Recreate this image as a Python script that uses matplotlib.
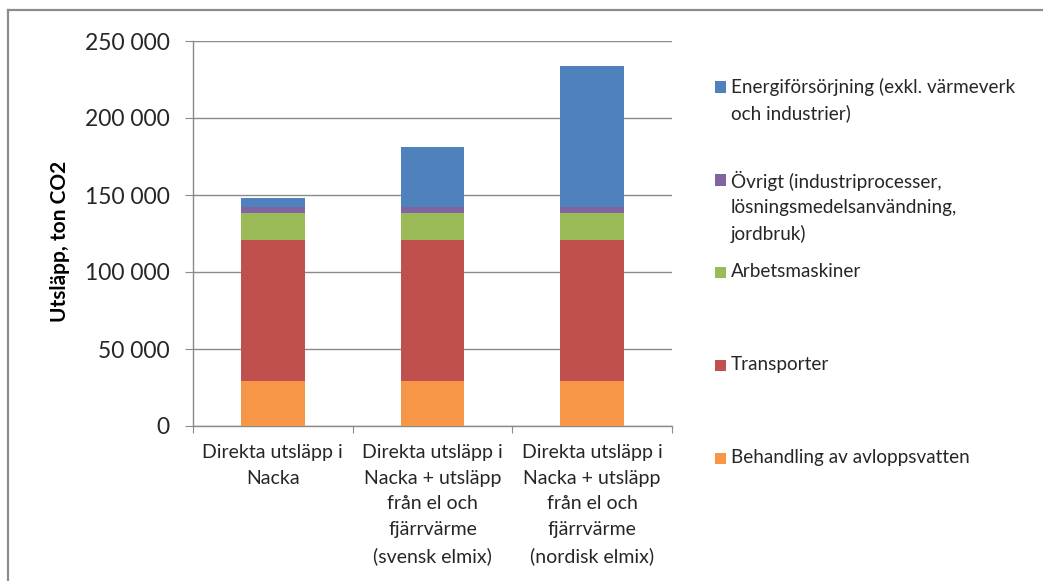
import matplotlib.pyplot as plt
from matplotlib.lines import Line2D
from matplotlib.patches import Rectangle
from matplotlib.ticker import FuncFormatter, FixedLocator

plt.rcParams['font.family'] = ['Lato', 'DejaVu Sans']

categories = [
    "Direkta utsläpp i\nNacka",
    "Direkta utsläpp i\nNacka + utsläpp\nfrån el och\nfjärrvärme\n(svensk elmix)",
    "Direkta utsläpp i\nNacka + utsläpp\nfrån el och\nfjärrvärme\n(nordisk elmix)",
]

# stacked from the bottom up
series_names = [
    "Behandling av avloppsvatten",
    "Transporter",
    "Arbetsmaskiner",
    "Övrigt (industriprocesser,\nlösningsmedelsanvändning,\njordbruk)",
    "Energiförsörjning (exkl. värmeverk\noch industrier)",
]
avlopp = [29000, 29000, 29000]
transporter = [92000, 92000, 92000]
arbetsmaskiner = [17000, 17000, 17000]
ovrigt = [3900, 3900, 3900]
energi = [6300, 39000, 91700]
series_values = [avlopp, transporter, arbetsmaskiner, ovrigt, energi]
colors = ["#F79646", "#C0504D", "#9BBB59", "#8064A2", "#4F81BD"]

W, H = 1043, 581
fig = plt.figure(figsize=(W / 100, H / 100), dpi=100)
ax = fig.add_axes([193 / W, 1 - 426 / H, (672 - 193) / W, (426 - 41) / H])

x = list(range(len(categories)))
bottom = [0] * len(categories)
for vals, col in zip(series_values, colors):
    ax.bar(x, vals, width=0.4, bottom=bottom, color=col, linewidth=0, zorder=3)
    bottom = [b + v for b, v in zip(bottom, vals)]

grid_col = "#8a8a8a"
text_col = "#262626"
ax.set_xlim(-0.5, len(categories) - 0.5)
ax.set_ylim(0, 250000)
ax.set_yticks(range(0, 250001, 50000))
ax.yaxis.set_major_formatter(FuncFormatter(lambda v, p: f"{v:,.0f}".replace(",", " ")))
ax.yaxis.grid(True, color=grid_col, linewidth=1.0, zorder=0)
ax.tick_params(axis="y", length=6, width=0.8, color=grid_col, pad=11,
               labelsize=16.5, labelcolor=text_col)

ax.set_xticks(x)
ax.set_xticklabels(categories, fontsize=14, color=text_col, linespacing=1.62)
ax.tick_params(axis="x", which="major", length=0, pad=13)
ax.xaxis.set_minor_locator(FixedLocator([-0.5, 0.5, 1.5, 2.5]))
ax.tick_params(axis="x", which="minor", length=5, width=0.8, color=grid_col)

for s in ["top", "right"]:
    ax.spines[s].set_visible(False)
for s in ["left", "bottom"]:
    ax.spines[s].set_color(grid_col)
    ax.spines[s].set_linewidth(1.0)

fig.text(60 / W, 1 - 241 / H, "Utsläpp, ton CO2", rotation=90, fontsize=15,
         fontweight="bold", ha="center", va="center", color="black")

# legend, top entry first
legend_y = [87, 180, 272, 365, 458]
for name, col, yc in zip(series_names[::-1], colors[::-1], legend_y):
    fig.patches.append(Rectangle((715 / W, 1 - (yc + 5.5) / H), 11 / W, 11 / H,
                                 transform=fig.transFigure, facecolor=col,
                                 edgecolor="none"))
    fig.text(731 / W, 1 - (yc - 9) / H, name, fontsize=13.6, ha="left",
             va="top", color=text_col, linespacing=1.58)

# chart frame
fig.add_artist(Line2D([8 / W, 1], [1 - 10 / H, 1 - 10 / H], color="#8c8c8c",
                      linewidth=1.6, transform=fig.transFigure))
fig.add_artist(Line2D([8 / W, 8 / W], [0, 1 - 10 / H], color="#8c8c8c",
                      linewidth=1.6, transform=fig.transFigure))

fig.savefig("out.png", dpi=100)
